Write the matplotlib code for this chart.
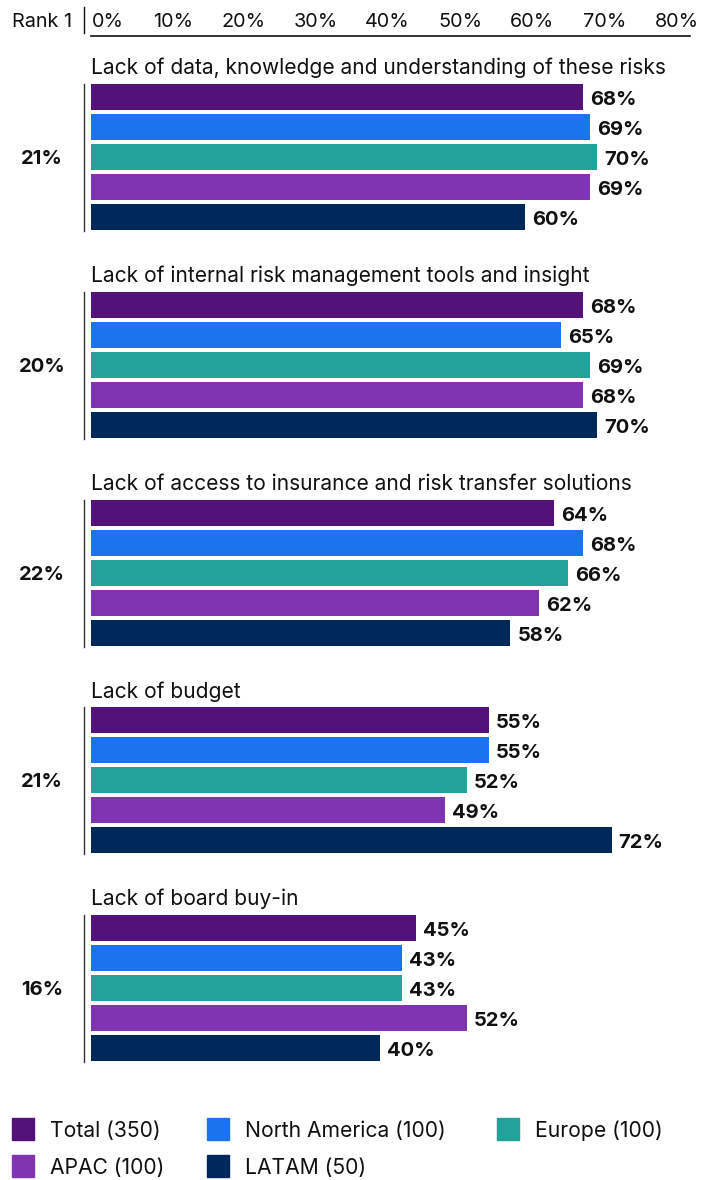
import matplotlib
matplotlib.use("Agg")
import matplotlib.pyplot as plt
from matplotlib.patches import Rectangle

plt.rcParams['font.family'] = ['Inter', 'DejaVu Sans']

# Datos del gráfico
challenges = [
    "Lack of data, knowledge and understanding of these risks",
    "Lack of internal risk management tools and insight",
    "Lack of access to insurance and risk transfer solutions",
    "Lack of budget",
    "Lack of board buy-in",
]
rank1 = [21, 20, 22, 21, 16]
series = ["Total (350)", "North America (100)", "Europe (100)", "APAC (100)", "LATAM (50)"]
colors = ["#52127A", "#1B73EE", "#23A29C", "#7F35B1", "#00285A"]
total = [68, 68, 64, 55, 45]
north_america = [69, 65, 68, 55, 43]
europe = [70, 69, 66, 52, 43]
apac = [69, 68, 62, 49, 52]
latam = [60, 70, 58, 72, 40]
ticks = [0, 10, 20, 30, 40, 50, 60, 70, 80]

values = [total, north_america, europe, apac, latam]

W, H = 706, 1180
X0 = 91       # pixel donde empiezan las barras
PX = 7.23     # pixeles por punto porcentual
TXT = "#111111"


def xd(px):
    # pixel horizontal -> coordenada de datos
    return (px - X0) / PX


fig = plt.figure(figsize=(W / 100, H / 100), dpi=100)
ax = fig.add_axes([0, 0, 1, 1])
ax.set_xlim(xd(0), xd(W))
ax.set_ylim(H, 0)
ax.axis("off")

# Cabecera con la escala
ax.text(xd(12), 22, "Rank 1", fontsize=14.3, color=TXT, ha="left", va="center")
ax.plot([xd(84), xd(84)], [7, 33], color=TXT, lw=1)
for t in ticks:
    # el 0% se separa un poco de la barra vertical
    ax.text(max(t + 4.1, 4.5), 22, f"{t}%", fontsize=14.3, color=TXT, ha="right", va="center")
ax.plot([0, xd(690)], [36, 36], color=TXT, lw=1.2)

# Grupos de barras
for g, title in enumerate(challenges):
    top = 97 + 207.8 * g
    ax.text(0, top - 29, title, fontsize=15.1, color=TXT, ha="left", va="center")
    ax.plot([xd(84), xd(84)], [top - 13, top + 134], color="#333333", lw=1)
    ax.text(xd(42), top + 62, f"{rank1[g]}%", fontsize=14.5, fontweight="bold",
            color=TXT, ha="center", va="center")
    for s, vals in enumerate(values):
        y = top + 30 * s
        ax.barh(y, vals[g], height=26, left=0, color=colors[s])
        ax.text(vals[g] + 7 / PX, y + 3, f"{vals[g]}%", fontsize=14.5, fontweight="bold",
                color=TXT, ha="left", va="center")

# Leyenda
legend_cols = [12, 207, 497]
legend_rows = [1129, 1166]
for i, (name, c) in enumerate(zip(series, colors)):
    lx = legend_cols[i % 3]
    ly = legend_rows[i // 3]
    ax.add_patch(Rectangle((xd(lx), ly - 11), 22 / PX, 22, color=c, clip_on=False))
    ax.text(xd(lx + 38), ly + 2, name, fontsize=15.2, color=TXT, ha="left", va="center")

fig.savefig("out.png", dpi=100)
